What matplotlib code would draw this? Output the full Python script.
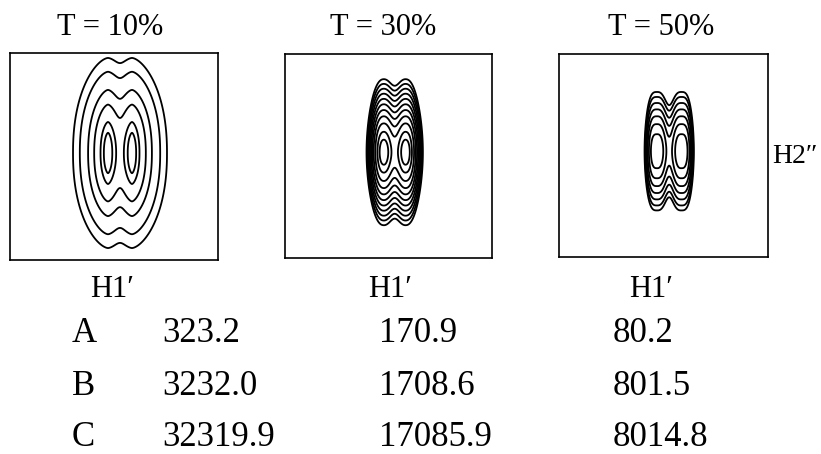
import numpy as np
import matplotlib
matplotlib.use('Agg')
import matplotlib.pyplot as plt

plt.rcParams['font.family'] = ['Liberation Serif', 'DejaVu Serif']

# titles and the numbers under each panel
titles = ['T = 10%', 'T = 30%', 'T = 50%']
row_names = ['A', 'B', 'C']
col_10 = [323.2, 3232.0, 32319.9]
col_30 = [170.9, 1708.6, 17085.9]
col_50 = [80.2, 801.5, 8014.8]

# cross peak shape for each panel (units ~ 1 px)
centre_x = [6.0, 6.2, 5.7]
centre_y = [3.5, 3.8, 4.3]
half_split = [12.0, 11.3, 12.5]   # half the H1'/H2'' doublet splitting
width_x = [8.0, 11.15, 12.5]
shape_x = [1.6, 2.2, 3.0]
core_y = [0.01, 50.0, 41.5]
width_y = [32.5, 15.4, 33.5]
shape_y = [2.2, 1.0, 1.0]
# contour levels, given as -ln(fraction of the peak height)
depths = [
    [0.35, 0.9, 2.4, 4.3, 7.5, 10.6],
    [0.1, 0.26, 0.5, 0.75, 1.0, 1.25, 1.5, 1.75, 2.0, 2.25, 2.5],
    [0.1, 0.24, 0.38, 0.52, 0.66, 0.8, 0.92],
]

W, H = 821, 454
# panel boxes in pixels: left, top, width, height
boxes = [(10, 53, 208, 207), (285, 54, 207, 204), (559, 54, 209, 203)]
title_x = [110, 383, 661]
h1_x = [112, 390, 651]


def cross_peak(xx, yy, i):
    d = xx - centre_x[i]
    line = lambda u: np.exp(-(np.abs(u) / width_x[i]) ** shape_x[i])
    prof_x = line(d - half_split[i]) + line(d + half_split[i])
    dy = yy - centre_y[i]
    h = core_y[i]
    psi = ((np.sqrt(h ** 2 + dy ** 2) - h) / width_y[i]) ** shape_y[i]
    z = prof_x * np.exp(-psi)
    return z / z.max()


fig = plt.figure(figsize=(W / 100, H / 100), dpi=100)

for i, (l, t, w, h) in enumerate(boxes):
    ax = fig.add_axes([l / W, 1 - (t + h) / H, w / W, h / H])
    x = np.linspace(-w / 2, w / 2, 800)
    y = np.linspace(-h / 2, h / 2, 800)
    xx, yy = np.meshgrid(x, y)
    z = cross_peak(xx, yy, i)
    levels = np.sort(np.exp(-np.array(depths[i])))
    ax.contour(xx, yy, z, levels=levels, colors='black', linewidths=1.3)
    ax.set_xlim(-w / 2, w / 2)
    ax.set_ylim(-h / 2, h / 2)
    ax.set_xticks([])
    ax.set_yticks([])
    for s in ax.spines.values():
        s.set_linewidth(1.2)

    fig.text(title_x[i] / W, 1 - 35 / H, titles[i], ha='center', va='baseline', fontsize=22)
    fig.text(h1_x[i] / W, 1 - 297 / H, 'H1\u2032', ha='center', va='baseline', fontsize=22)

fig.text(772 / W, 1 - 163 / H, 'H2\u2033', ha='left', va='baseline', fontsize=20)

# table of values
row_y = [342, 395, 446]
col_x = [162, 379, 613]
for r in range(3):
    yb = 1 - row_y[r] / H
    fig.text(72 / W, yb, row_names[r], ha='left', va='baseline', fontsize=25)
    for c, vals in enumerate([col_10, col_30, col_50]):
        fig.text(col_x[c] / W, yb, '%.1f' % vals[r], ha='left', va='baseline', fontsize=25)

fig.savefig('out.png', dpi=100)
